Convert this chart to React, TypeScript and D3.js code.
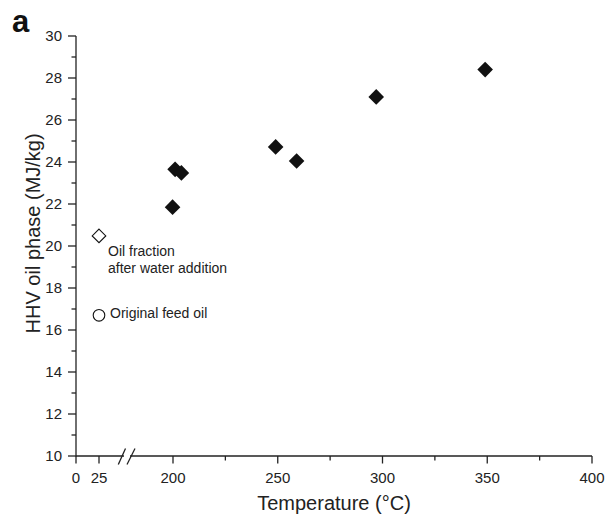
import React from "react";
import * as d3 from "d3";

const tempsFilled = [199, 201, 204, 249, 259, 297, 349];
const hhvFilled = [21.85, 23.65, 23.48, 24.72, 24.05, 27.1, 28.4];
const waterAdded = { t: 25, v: 20.48, label: ["Oil fraction", "after water addition"] };
const feedOil = { t: 25, v: 16.7, label: ["Original feed oil"] };
const xMajorTicks = [0, 25, 200, 250, 300, 350, 400];
const xMinorTicks = [225, 275, 325, 375];
const yMajorTicks = [10, 12, 14, 16, 18, 20, 22, 24, 26, 28, 30];
const yMinorTicks = [11, 13, 15, 17, 19, 21, 23, 25, 27, 29];

export default function App() {
  const W = 606, H = 515;
  const x = d3.scaleLinear().domain([0, 25, 200, 400]).range([76, 99, 173, 592]);
  const y = d3.scaleLinear().domain([10, 30]).range([456, 36]);
  const font = "'Liberation Sans', Arial, Helvetica, sans-serif";
  const diamond = (cx: number, cy: number, r: number) =>
    `M${cx},${cy - r}L${cx + r},${cy}L${cx},${cy + r}L${cx - r},${cy}Z`;
  const x0 = x(0);
  const y0 = y(10);
  return (
    <svg width={W} height={H} style={{ position: "absolute", left: 0, top: 0 }} fontFamily={font}>
      <rect width={W} height={H} fill="#fff" />
      <text x={12} y={32} fontSize={31} fontWeight="bold" fill="#111">a</text>
      {/* y axis */}
      <line x1={x0} x2={x0} y1={y(30)} y2={y0 + 0.5} stroke="#222" strokeWidth={1.3} />
      {yMajorTicks.map((t) => (
        <g key={"ym" + t}>
          <line x1={x0 - 8} x2={x0} y1={y(t)} y2={y(t)} stroke="#222" strokeWidth={1.3} />
          <text x={x0 - 14} y={y(t)} dy="0.35em" textAnchor="end" fontSize={15} fill="#222">{t}</text>
        </g>
      ))}
      {yMinorTicks.map((t) => (
        <line key={"yn" + t} x1={x0 - 4.5} x2={x0} y1={y(t)} y2={y(t)} stroke="#222" strokeWidth={1.3} />
      ))}
      {/* x axis with break */}
      <line x1={x0} x2={124} y1={y0} y2={y0} stroke="#222" strokeWidth={1.3} />
      <line x1={130} x2={x(400)} y1={y0} y2={y0} stroke="#222" strokeWidth={1.3} />
      <line x1={118.3} y1={464.5} x2={125.5} y2={448.5} stroke="#222" strokeWidth={1.3} />
      <line x1={127} y1={464.5} x2={135} y2={448.5} stroke="#222" strokeWidth={1.3} />
      {xMajorTicks.map((t) => (
        <g key={"xm" + t}>
          <line x1={x(t)} x2={x(t)} y1={y0} y2={y0 + 7.5} stroke="#222" strokeWidth={1.3} />
          <text x={x(t)} y={y0 + 21.5} dy="0.35em" textAnchor="middle" fontSize={15} fill="#222">{t}</text>
        </g>
      ))}
      {xMinorTicks.map((t) => (
        <line key={"xn" + t} x1={x(t)} x2={x(t)} y1={y0} y2={y0 + 4.5} stroke="#222" strokeWidth={1.3} />
      ))}
      {/* axis titles */}
      <text x={334} y={503} dy="0.35em" textAnchor="middle" fontSize={20} fill="#222">Temperature (°C)</text>
      <text transform={`translate(33,${y(20.6)}) rotate(-90)`} dy="0.35em" textAnchor="middle" fontSize={20} fill="#222">HHV oil phase (MJ/kg)</text>
      {/* data */}
      {tempsFilled.map((t, i) => (
        <path key={"p" + i} d={diamond(x(t), y(hhvFilled[i]), 7.8)} fill="#111" />
      ))}
      <path d={diamond(x(waterAdded.t), y(waterAdded.v), 6.8)} fill="#fff" stroke="#111" strokeWidth={1.1} />
      {waterAdded.label.map((s, i) => (
        <text key={"wl" + i} x={x(waterAdded.t) + 9} y={y(waterAdded.v) + 15 + i * 17.5} dy="0.35em" fontSize={14} fill="#222">{s}</text>
      ))}
      <circle cx={x(feedOil.t)} cy={y(feedOil.v)} r={5.8} fill="#fff" stroke="#111" strokeWidth={1.1} />
      {feedOil.label.map((s, i) => (
        <text key={"fl" + i} x={x(feedOil.t) + 11} y={y(feedOil.v) - 2} dy="0.35em" fontSize={14} fill="#222">{s}</text>
      ))}
    </svg>
  );
}
